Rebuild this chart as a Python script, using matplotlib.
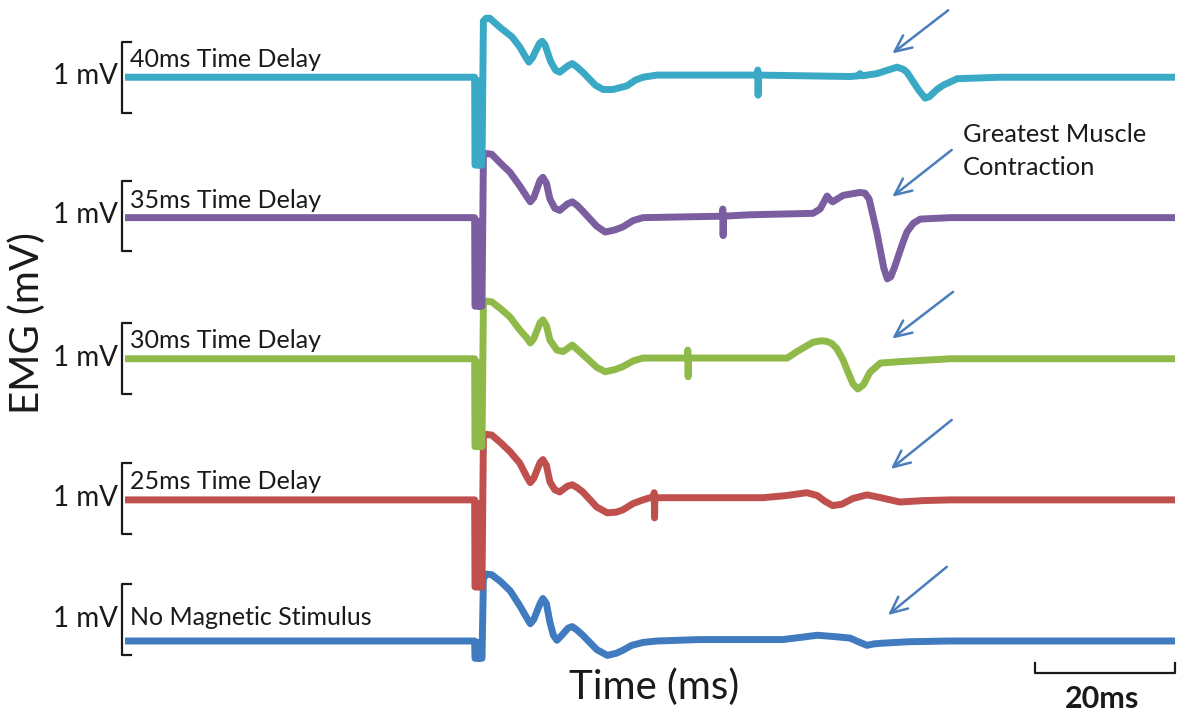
import matplotlib
matplotlib.use("Agg")
import matplotlib.pyplot as plt

FONT = "Lato"

# ---- data: time (ms) and amplitude (mV, relative to each trace's own baseline) ----
labels = ["No Magnetic Stimulus", "25ms Time Delay", "30ms Time Delay",
          "35ms Time Delay", "40ms Time Delay"]
colors = ["#3F7BBE", "#C0504D", "#8FBA49", "#7B5E9F", "#3AA9C6"]
offsets = [0.0, 1.96, 3.92, 5.88, 7.83]   # vertical stacking offsets (mV)

blue_t = [0, 49.95, 50.0, 50.5, 50.55, 50.6, 51.0, 51.2, 51.6, 52.4, 53.6, 55.0, 56.4,
          57.4, 57.9, 58.4, 59.3, 59.7, 60.2, 60.7, 61.2, 61.7, 62.4, 63.3, 63.9, 64.6,
          65.4, 67.4, 68.9, 70.2, 71.1, 72.4, 74.0, 76.0, 82.1, 94.0, 96.5, 98.9, 101.5,
          103.6, 105.0, 106.0, 107.0, 108.3, 112.0, 117.9, 150]
blue_v = [0, 0, -0.24, -0.24, -0.02, -0.24, -0.24, 0.86, 0.93, 0.92, 0.83, 0.70, 0.49,
          0.32, 0.24, 0.30, 0.52, 0.59, 0.52, 0.26, 0.08, 0.01, 0.08, 0.18, 0.20, 0.15,
          0.08, -0.12, -0.20, -0.17, -0.13, -0.06, -0.02, 0.0, 0.02, 0.02, 0.05, 0.08,
          0.06, 0.04, -0.02, -0.06, -0.04, -0.03, -0.01, 0.0, 0.0]

red_t = [0, 49.95, 50.0, 50.5, 50.55, 50.6, 51.0, 51.2, 51.6, 52.4, 53.6, 55.0, 56.4,
         57.4, 57.9, 58.4, 59.3, 59.7, 60.2, 60.7, 61.4, 62.1, 63.2, 63.9, 64.6, 65.4,
         67.4, 68.9, 70.2, 71.1, 72.6, 74.0, 75.0, 75.5, 75.6, 75.65, 75.7, 91.1, 94.5,
         97.4, 98.9, 100.0, 101.1, 102.4, 104.0, 106.0, 108.0, 110.7, 114.0, 117.9, 150]
red_v = [0, 0, -1.21, -1.21, -0.05, -1.21, -1.21, 0.87, 0.91, 0.90, 0.80, 0.67, 0.51,
         0.32, 0.24, 0.30, 0.52, 0.56, 0.48, 0.25, 0.14, 0.11, 0.19, 0.21, 0.17, 0.11,
         -0.10, -0.18, -0.17, -0.14, -0.05, 0.0, 0.03, 0.03, 0.10, -0.25, 0.03, 0.03,
         0.06, 0.10, 0.06, -0.02, -0.08, -0.06, 0.02, 0.07, 0.03, -0.03, -0.01, 0.0, 0.0]

green_t = [0, 49.95, 50.0, 50.5, 50.55, 50.6, 51.0, 51.2, 51.6, 52.4, 53.6, 55.0, 56.4,
           57.4, 57.9, 58.4, 59.3, 59.7, 60.2, 60.7, 61.7, 62.6, 63.9, 65.4, 67.4,
           68.6, 70.0, 71.1, 72.6, 74.0, 80.3, 80.4, 80.45, 80.5, 94.6, 96.0, 97.4,
           98.3, 99.5, 100.3, 101.0, 101.7, 102.6, 103.3, 104.0, 104.7, 105.5, 106.4,
           107.9, 110.7, 117.9, 150]
green_v = [0, 0, -1.22, -1.22, -0.05, -1.22, -1.22, 0.76, 0.80, 0.79, 0.70, 0.58, 0.40,
           0.29, 0.22, 0.28, 0.50, 0.54, 0.46, 0.26, 0.12, 0.10, 0.19, 0.06, -0.12,
           -0.18, -0.15, -0.11, -0.03, 0.01, 0.01, 0.12, -0.25, 0.01, 0.01, 0.10,
           0.18, 0.23, 0.25, 0.24, 0.21, 0.14, -0.02, -0.19, -0.35, -0.42, -0.36,
           -0.19, -0.06, -0.04, 0.0, 0.0]

purple_t = [0, 49.95, 50.0, 50.5, 50.55, 50.6, 51.0, 51.2, 51.6, 52.4, 53.6, 55.0,
            56.4, 57.4, 57.9, 58.4, 59.3, 59.7, 60.2, 60.7, 61.4, 62.1, 63.2, 63.9,
            64.6, 65.4, 67.4, 68.6, 70.0, 71.1, 72.6, 74.0, 85.3, 85.4, 85.45, 85.5,
            89.3, 98.3, 99.3, 100.3, 100.8, 101.1, 102.6, 105.0, 105.7, 106.3, 107.4,
            108.4, 108.9, 109.4, 110.0, 111.0, 111.7, 112.6, 113.6, 117.9, 150]
purple_v = [0, 0, -1.23, -1.23, -0.05, -1.23, -1.23, 0.85, 0.89, 0.88, 0.76, 0.63,
            0.44, 0.29, 0.22, 0.28, 0.52, 0.56, 0.48, 0.26, 0.13, 0.10, 0.19, 0.22,
            0.17, 0.09, -0.12, -0.20, -0.17, -0.13, -0.04, 0.0, 0.02, 0.12, -0.25, 0.02,
            0.04, 0.06, 0.12, 0.30, 0.24, 0.22, 0.31, 0.35, 0.34, 0.26, -0.20, -0.70,
            -0.85, -0.82, -0.67, -0.38, -0.20, -0.08, -0.02, 0.0, 0.0]

cyan_t = [0, 49.95, 50.0, 50.5, 50.55, 50.6, 51.0, 51.2, 51.6, 52.1, 53.6, 55.3, 56.4,
          57.3, 57.7, 58.2, 59.2, 59.6, 60.0, 60.8, 61.5, 62.1, 63.3, 63.9, 64.6, 65.4,
          67.2, 68.3, 69.7, 71.7, 72.9, 74.0, 76.0, 90.3, 90.4, 90.45, 90.5, 103.6,
          104.8, 105.0, 105.3, 107.4, 109.0, 110.3, 111.2, 111.7, 113.4, 114.3, 114.9,
          116.0, 116.9, 118.9, 125, 150]
cyan_v = [0, 0, -1.22, -1.22, -0.05, -1.22, -1.22, 0.78, 0.82, 0.82, 0.69, 0.56, 0.42,
          0.27, 0.21, 0.27, 0.47, 0.50, 0.45, 0.22, 0.10, 0.07, 0.16, 0.19, 0.14, 0.07,
          -0.11, -0.17, -0.17, -0.12, -0.04, 0.0, 0.03, 0.03, 0.10, -0.25, 0.03, 0.01,
          0.02, 0.05, 0.02, 0.05, 0.10, 0.14, 0.11, 0.07, -0.18, -0.29, -0.27, -0.17,
          -0.11, -0.02, 0.0, 0.0]

series_t = [blue_t, red_t, green_t, purple_t, cyan_t]
series_v = [blue_v, red_v, green_v, purple_v, cyan_v]

# scale-bar / bracket annotations
bracket_center = [0.30, 0.02, 0.0, 0.02, 0.0]   # centre of "1 mV" bracket rel. to baseline
label_lift = [0.22, 0.15, 0.15, 0.13, 0.14]     # trace-label baseline above trace
# arrows: (tail_t, tail_v, head_t, head_v) relative to each trace baseline
arrows = [(117.4, 1.03, 109.0, 0.36), (118.1, 1.11, 109.4, 0.43),
          (118.3, 0.93, 109.6, 0.28), (118.1, 0.94, 109.6, 0.29),
          (117.6, 0.93, 109.6, 0.33)]
scalebar_start, scalebar_ms = 130.0, 20

fig = plt.figure(figsize=(11.83, 7.12), dpi=100)
ax = fig.add_axes([0, 0, 1, 1])
ax.set_xlim(-125 / 7, (1183 - 125) / 7)
ax.set_ylim(-71 / 72, 641 / 72)
ax.axis("off")

txt = "#1a1a1a"
for t, v, off, col, lab, bc, ll, arr in zip(series_t, series_v, offsets, colors,
                                             labels, bracket_center, label_lift, arrows):
    ax.plot(t, [val + off for val in v], color=col, lw=5.0,
            solid_joinstyle="round", solid_capstyle="butt", zorder=3)
    c = off + bc
    ax.plot([0.86, -0.43, -0.43, 0.86], [c + 0.49, c + 0.49, c - 0.49, c - 0.49],
            color=txt, lw=1.6, zorder=4)
    ax.text(-1.0, c - 0.10, "1 mV", ha="right", va="baseline", fontsize=20,
            family=FONT, color=txt)
    ax.text(0.7, off + ll, lab, ha="left", va="baseline", fontsize=18,
            family=FONT, color=txt)
    ax.annotate("", xy=(arr[2], off + arr[3]), xytext=(arr[0], off + arr[1]),
                arrowprops=dict(arrowstyle="->,head_length=1.2,head_width=0.55",
                                color="#4A7EBB", lw=1.8, shrinkA=0, shrinkB=0))

ax.text(119.7, 6.93, "Greatest Muscle", ha="left", va="baseline", fontsize=18.3,
        family=FONT, color=txt)
ax.text(119.7, 6.47, "Contraction", ha="left", va="baseline", fontsize=18.3,
        family=FONT, color=txt)

sb_y = -0.444
ax.plot([scalebar_start, scalebar_start, scalebar_start + scalebar_ms,
         scalebar_start + scalebar_ms], [sb_y + 0.14, sb_y, sb_y, sb_y + 0.14],
        color=txt, lw=1.6)
ax.text(scalebar_start + scalebar_ms / 2 - 0.4, -0.93, f"{scalebar_ms}ms", ha="center",
        va="baseline", fontsize=22, fontweight="bold", family=FONT, color=txt)

ax.text(75.6, -0.806, "Time (ms)", ha="center", va="baseline", fontsize=29,
        family=FONT, color=txt)
ax.text(-14.0, 4.42, "EMG (mV)", ha="center", va="center", rotation=90,
        fontsize=29, family=FONT, color=txt)

fig.savefig("out.png", dpi=100, facecolor="white")
